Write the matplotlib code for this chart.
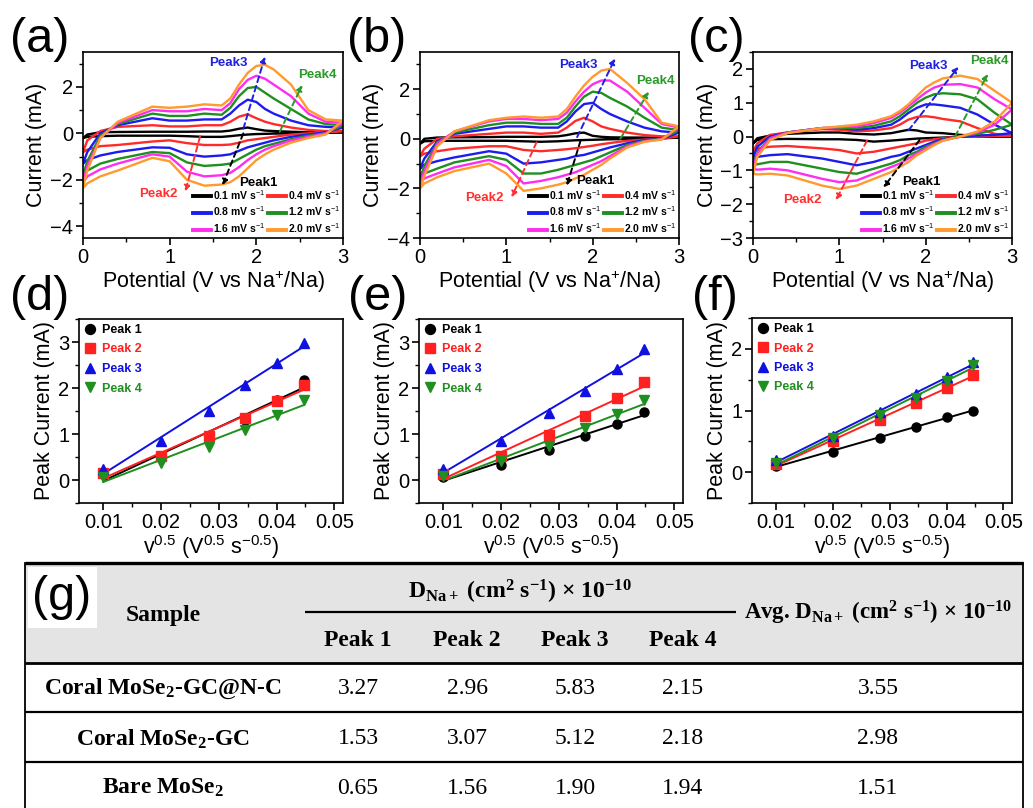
import numpy as np
import matplotlib
matplotlib.use('Agg')
import matplotlib.pyplot as plt
from matplotlib.ticker import MultipleLocator
from matplotlib.patches import Rectangle

plt.rcParams['font.family'] = ['Liberation Sans', 'DejaVu Sans']
plt.rcParams['mathtext.fontset'] = 'custom'
plt.rcParams['mathtext.rm'] = 'Liberation Sans'
plt.rcParams['mathtext.it'] = 'Liberation Sans:italic'
plt.rcParams['mathtext.bf'] = 'Liberation Serif:bold'
plt.rcParams['axes.linewidth'] = 1.2

# ---------------- data ----------------
potential = [0, 0.05, 0.2, 0.4, 0.8, 1.0, 1.2, 1.4, 1.6, 1.7, 1.8, 1.9, 2.0, 2.1, 2.2, 2.4, 2.6, 2.8, 3.0]
scan_rates = ['0.1', '0.4', '0.8', '1.2', '1.6', '2.0']
rate_colors = ['#000000', '#ff2a2a', '#1c1cf0', '#1f8f1f', '#ff2df0', '#ff9a2e']

a_anodic = [
    [-0.2, -0.05, 0.05, 0.06, 0.07, 0.07, 0.07, 0.08, 0.08, 0.12, 0.2, 0.25, 0.18, 0.12, 0.1, 0.07, 0.05, 0.05, 0.05],
    [-0.8, -0.3, 0.1, 0.28, 0.35, 0.3, 0.3, 0.35, 0.35, 0.5, 0.72, 0.82, 0.65, 0.5, 0.4, 0.25, 0.15, 0.1, 0.1],
    [-1.3, -0.8, 0.0, 0.35, 0.65, 0.55, 0.55, 0.6, 0.6, 0.85, 1.2, 1.45, 1.35, 1.05, 0.85, 0.55, 0.35, 0.28, 0.25],
    [-1.8, -1.2, -0.1, 0.4, 0.85, 0.75, 0.75, 0.85, 0.8, 1.1, 1.6, 1.95, 2.0, 1.75, 1.5, 1.05, 0.6, 0.4, 0.35],
    [-2.1, -1.4, -0.2, 0.45, 1.0, 0.95, 0.95, 1.05, 1.0, 1.3, 1.9, 2.3, 2.48, 2.35, 2.1, 1.6, 0.85, 0.5, 0.45],
    [-2.35, -1.6, -0.2, 0.5, 1.15, 1.1, 1.15, 1.25, 1.2, 1.5, 2.1, 2.6, 2.9, 2.95, 2.75, 2.1, 1.0, 0.6, 0.55],
]
a_cathodic = [
    [-0.2, -0.15, -0.12, -0.1, -0.1, -0.1, -0.12, -0.15, -0.15, -0.12, -0.08, -0.05, -0.03, -0.02, -0.01, 0.0, 0.0, 0.02, 0.05],
    [-0.8, -0.7, -0.55, -0.5, -0.35, -0.3, -0.42, -0.5, -0.5, -0.48, -0.4, -0.3, -0.25, -0.2, -0.15, -0.05, 0.0, 0.05, 0.1],
    [-1.3, -1.15, -0.95, -0.8, -0.6, -0.62, -0.9, -1.0, -0.95, -0.9, -0.75, -0.6, -0.5, -0.4, -0.3, -0.15, -0.05, 0.05, 0.25],
    [-1.8, -1.6, -1.3, -1.1, -0.8, -0.85, -1.25, -1.4, -1.35, -1.3, -1.1, -0.9, -0.7, -0.55, -0.45, -0.25, -0.1, 0.0, 0.35],
    [-2.1, -1.85, -1.55, -1.3, -0.9, -1.0, -1.65, -1.85, -1.8, -1.7, -1.45, -1.15, -0.9, -0.7, -0.55, -0.3, -0.15, 0.0, 0.45],
    [-2.35, -2.15, -1.85, -1.6, -1.05, -1.2, -2.0, -2.25, -2.2, -2.1, -1.85, -1.5, -1.15, -0.9, -0.7, -0.4, -0.2, -0.05, 0.55],
]
b_anodic = [
    [-0.2, 0.0, 0.05, 0.06, 0.07, 0.08, 0.08, 0.08, 0.1, 0.15, 0.22, 0.25, 0.12, 0.08, 0.06, 0.05, 0.05, 0.05, 0.05],
    [-0.7, -0.4, 0.0, 0.1, 0.2, 0.25, 0.25, 0.2, 0.25, 0.45, 0.72, 0.85, 0.7, 0.5, 0.4, 0.25, 0.15, 0.1, 0.1],
    [-1.2, -0.8, -0.1, 0.2, 0.4, 0.5, 0.5, 0.45, 0.45, 0.7, 1.1, 1.4, 1.45, 1.2, 1.0, 0.7, 0.45, 0.3, 0.25],
    [-1.6, -1.1, -0.15, 0.25, 0.55, 0.65, 0.65, 0.6, 0.6, 0.85, 1.3, 1.7, 1.9, 1.85, 1.65, 1.3, 0.85, 0.45, 0.35],
    [-1.8, -1.3, -0.2, 0.3, 0.7, 0.8, 0.8, 0.75, 0.8, 1.05, 1.5, 1.9, 2.2, 2.35, 2.35, 1.9, 1.25, 0.6, 0.45],
    [-2.0, -1.5, -0.3, 0.3, 0.75, 0.85, 0.9, 0.85, 0.9, 1.2, 1.7, 2.15, 2.5, 2.75, 2.82, 2.25, 1.6, 0.65, 0.5],
]
b_cathodic = [
    [-0.2, -0.1, -0.08, -0.08, -0.08, -0.08, -0.1, -0.12, -0.1, -0.08, -0.06, -0.05, -0.04, -0.03, -0.02, -0.01, 0.0, 0.02, 0.05],
    [-0.7, -0.6, -0.5, -0.4, -0.3, -0.3, -0.45, -0.5, -0.45, -0.42, -0.38, -0.33, -0.28, -0.22, -0.17, -0.08, -0.03, 0.0, 0.1],
    [-1.2, -1.05, -0.9, -0.75, -0.5, -0.6, -1.0, -0.95, -0.85, -0.8, -0.7, -0.65, -0.55, -0.45, -0.35, -0.18, -0.05, 0.0, 0.25],
    [-1.6, -1.4, -1.2, -0.95, -0.7, -0.85, -1.4, -1.4, -1.25, -1.15, -1.05, -0.95, -0.85, -0.7, -0.55, -0.25, -0.08, 0.0, 0.35],
    [-1.8, -1.6, -1.4, -1.15, -0.85, -1.1, -1.8, -1.7, -1.55, -1.45, -1.35, -1.2, -1.05, -0.9, -0.7, -0.3, -0.1, -0.02, 0.45],
    [-2.0, -1.8, -1.55, -1.3, -1.0, -1.4, -2.1, -2.0, -1.85, -1.75, -1.6, -1.45, -1.25, -1.05, -0.8, -0.35, -0.12, -0.03, 0.5],
]
c_anodic = [
    [-0.2, -0.05, 0.03, 0.08, 0.12, 0.12, 0.08, 0.06, 0.1, 0.15, 0.2, 0.18, 0.12, 0.11, 0.1, 0.05, 0.02, 0.01, 0.0],
    [-0.45, -0.2, 0.05, 0.12, 0.22, 0.2, 0.15, 0.18, 0.25, 0.35, 0.5, 0.58, 0.6, 0.57, 0.52, 0.45, 0.25, 0.08, 0.02],
    [-0.65, -0.3, 0.0, 0.12, 0.25, 0.25, 0.2, 0.25, 0.35, 0.5, 0.7, 0.85, 0.95, 0.95, 0.92, 0.85, 0.65, 0.35, 0.1],
    [-0.85, -0.45, -0.05, 0.12, 0.25, 0.25, 0.25, 0.32, 0.45, 0.6, 0.8, 1.0, 1.15, 1.25, 1.28, 1.25, 1.1, 0.7, 0.35],
    [-0.95, -0.5, -0.05, 0.12, 0.25, 0.28, 0.3, 0.4, 0.55, 0.7, 0.9, 1.1, 1.3, 1.45, 1.53, 1.55, 1.45, 1.1, 0.8],
    [-1.1, -0.6, -0.1, 0.1, 0.25, 0.3, 0.35, 0.45, 0.6, 0.75, 0.95, 1.2, 1.45, 1.6, 1.72, 1.8, 1.7, 1.35, 1.0],
]
c_cathodic = [
    [-0.2, -0.1, -0.08, -0.07, -0.08, -0.08, -0.1, -0.15, -0.12, -0.1, -0.08, -0.06, -0.05, -0.04, -0.03, -0.01, 0.0, 0.0, 0.0],
    [-0.45, -0.35, -0.3, -0.28, -0.35, -0.4, -0.5, -0.45, -0.35, -0.3, -0.25, -0.2, -0.12, -0.08, -0.05, 0.0, 0.0, 0.01, 0.02],
    [-0.65, -0.6, -0.55, -0.52, -0.65, -0.75, -0.85, -0.75, -0.6, -0.55, -0.45, -0.35, -0.25, -0.15, -0.08, 0.0, 0.03, 0.05, 0.1],
    [-0.85, -0.82, -0.75, -0.75, -0.95, -1.05, -1.1, -0.95, -0.8, -0.7, -0.55, -0.45, -0.3, -0.2, -0.1, 0.0, 0.08, 0.2, 0.35],
    [-0.95, -0.98, -0.95, -1.0, -1.25, -1.35, -1.3, -1.1, -0.9, -0.8, -0.65, -0.5, -0.35, -0.22, -0.12, 0.0, 0.12, 0.35, 0.8],
    [-1.1, -1.12, -1.1, -1.15, -1.45, -1.55, -1.45, -1.25, -1.05, -0.9, -0.75, -0.55, -0.4, -0.25, -0.12, 0.0, 0.15, 0.45, 1.0],
]

# peak current vs square root of scan rate
sqrt_rate = [0.01, 0.02, 0.0283, 0.0346, 0.04, 0.0447]
peak_names = ['Peak 1', 'Peak 2', 'Peak 3', 'Peak 4']
peak_colors = ['#000000', '#ff2020', '#1010e0', '#1f8f1f']
peak_markers = ['o', 's', '^', 'v']
d_peaks = [
    [0.13, 0.49, 0.92, 1.30, 1.75, 2.17],
    [0.15, 0.52, 0.95, 1.35, 1.72, 2.06],
    [0.24, 0.85, 1.50, 2.07, 2.54, 2.98],
    [0.07, 0.38, 0.72, 1.09, 1.41, 1.74],
]
e_peaks = [
    [0.07, 0.33, 0.66, 0.96, 1.22, 1.48],
    [0.14, 0.52, 0.98, 1.40, 1.78, 2.12],
    [0.25, 0.84, 1.46, 1.94, 2.41, 2.84],
    [0.09, 0.41, 0.74, 1.13, 1.44, 1.74],
]
f_peaks = [
    [0.10, 0.33, 0.56, 0.74, 0.89, 1.00],
    [0.13, 0.50, 0.85, 1.12, 1.37, 1.58],
    [0.20, 0.59, 0.97, 1.26, 1.54, 1.79],
    [0.15, 0.55, 0.93, 1.20, 1.48, 1.74],
]

# table (g)
table_samples = ['Coral MoSe$\\mathbf{_{2}}$-GC@N-C', 'Coral MoSe$\\mathbf{_{2}}$-GC', 'Bare MoSe$\\mathbf{_{2}}$']
table_peaks = ['Peak 1', 'Peak 2', 'Peak 3', 'Peak 4']
row_gc_nc = [3.27, 2.96, 5.83, 2.15]
row_gc = [1.53, 3.07, 5.12, 2.18]
row_bare = [0.65, 1.56, 1.90, 1.94]
avg_values = [3.55, 2.98, 1.51]

# ---------------- figure ----------------
W, H = 1033, 808
fig = plt.figure(figsize=(W / 100, H / 100), dpi=100)


def px_axes(l, t, r, b):
    return fig.add_axes([l / W, 1 - b / H, (r - l) / W, (b - t) / H])


TICK_FS = 14.5
LAB_FS = 15.5


def style_ticks(ax):
    ax.tick_params(which='major', direction='out', length=5, width=1.2, labelsize=TICK_FS,
                   top=False, right=False, pad=2)
    ax.tick_params(which='minor', direction='out', length=3, width=1.0, top=False, right=False)


def cv_panel(ax, anodic, cathodic, ylim, ymajor, yminor, arrows, labels):
    lines = []
    for i in range(len(scan_rates)):
        e = list(potential) + list(potential[::-1])
        cur = list(anodic[i]) + list(cathodic[i][::-1])
        ln, = ax.plot(e, cur, color=rate_colors[i], lw=1.7, solid_joinstyle='round',
                      label=scan_rates[i] + ' mV s$^{-1}$')
        lines.append(ln)
    ax.set_xlim(0, 3)
    ax.set_ylim(*ylim)
    ax.xaxis.set_major_locator(MultipleLocator(1))
    ax.xaxis.set_minor_locator(MultipleLocator(0.5))
    ax.yaxis.set_major_locator(MultipleLocator(ymajor))
    ax.yaxis.set_minor_locator(MultipleLocator(yminor))
    style_ticks(ax)
    ax.set_xlabel('Potential (V vs Na$^{+}$/Na)', fontsize=LAB_FS, labelpad=1)
    ax.set_ylabel('Current (mA)', fontsize=LAB_FS, labelpad=2)
    pcols = ['#000000', '#ff3030', '#2020e0', '#2a9a2a']
    for k, (start, end) in enumerate(arrows):
        ax.annotate('', xy=end, xytext=start,
                    arrowprops=dict(arrowstyle='-|>', color=pcols[k], lw=1.4,
                                    linestyle=(0, (3, 2)), mutation_scale=8,
                                    shrinkA=0, shrinkB=0))
    for k, (txt, pos) in enumerate(zip(['Peak1', 'Peak2', 'Peak3', 'Peak4'], labels)):
        ax.text(pos[0], pos[1], txt, color=pcols[k], fontsize=9.5, fontweight='bold',
                ha='center', va='center')
    order = [0, 2, 4, 1, 3, 5]
    leg = ax.legend([lines[i] for i in order], [lines[i].get_label() for i in order],
                    ncol=2, loc='lower right', bbox_to_anchor=(1.0, 0.0), frameon=False,
                    prop={'weight': 'bold', 'size': 7.5}, handlelength=1.7,
                    handletextpad=0.2, columnspacing=0.3, labelspacing=0.3,
                    borderaxespad=0.15, borderpad=0.1)
    for ln in leg.get_lines():
        ln.set_linewidth(2.8)


ax_a = px_axes(83, 52, 343, 238)
cv_panel(ax_a, a_anodic, a_cathodic, (-4.5, 3.5), 2, 1,
         [((1.85, 0.0), (1.61, -2.23)), ((1.35, -0.14), (1.18, -2.5)),
          ((1.85, 0.2), (2.1, 3.3)), ((2.27, 0.07), (2.53, 2.08))],
         [(2.02, -2.15), (0.87, -2.62), (1.68, 3.02), (2.7, 2.52)])

ax_b = px_axes(420, 52, 679, 238)
cv_panel(ax_b, b_anodic, b_cathodic, (-4, 3.5), 2, 1,
         [((1.86, -0.07), (1.70, -1.89)), ((1.35, -0.14), (1.06, -2.36)),
          ((1.82, 0.07), (2.26, 3.24)), ((2.32, 0.0), (2.65, 1.9))],
         [(2.03, -1.72), (0.75, -2.38), (1.84, 2.99), (2.73, 2.34)])

ax_c = px_axes(753, 52, 1012, 238)
cv_panel(ax_c, c_anodic, c_cathodic, (-3, 2.5), 1, 0.5,
         [((1.93, -0.1), (1.51, -1.51)), ((1.32, -0.12), (0.96, -1.88)),
          ((1.80, 0.18), (2.38, 2.06)), ((2.34, 0.0), (2.72, 1.85))],
         [(1.95, -1.34), (0.57, -1.88), (2.03, 2.1), (2.74, 2.23)])


def peak_panel(ax, peaks, ylim, ymajor, yminor):
    x = np.array(sqrt_rate)
    for k in range(4):
        y = np.array(peaks[k])
        ax.plot(x, y, linestyle='none', marker=peak_markers[k], color=peak_colors[k],
                markersize=6.5, label=peak_names[k], zorder=3)
        slope, icpt = np.polyfit(x, y, 1)
        ax.plot([x.min(), x.max()], [slope * x.min() + icpt, slope * x.max() + icpt],
                color=peak_colors[k], lw=1.4, zorder=2)
    ax.set_xlim(0.0058, 0.0515)
    ax.set_ylim(*ylim)
    ax.xaxis.set_major_locator(MultipleLocator(0.01))
    ax.xaxis.set_minor_locator(MultipleLocator(0.005))
    ax.yaxis.set_major_locator(MultipleLocator(ymajor))
    ax.yaxis.set_minor_locator(MultipleLocator(yminor))
    ax.xaxis.set_major_formatter(matplotlib.ticker.FormatStrFormatter('%.2f'))
    style_ticks(ax)
    ax.set_xlabel('v$^{0.5}$ (V$^{0.5}$ s$^{-0.5}$)', fontsize=LAB_FS, labelpad=1)
    ax.set_ylabel('Peak Current (mA)', fontsize=LAB_FS, labelpad=2)
    leg = ax.legend(loc='upper left', frameon=False, prop={'weight': 'bold', 'size': 9},
                    handletextpad=0.4, labelspacing=0.6, borderaxespad=0.2, borderpad=0.2,
                    handlelength=1.0, markerscale=1.1)
    for t, c in zip(leg.get_texts(), peak_colors):
        t.set_color(c)


ax_d = px_axes(79, 319, 343, 503)
peak_panel(ax_d, d_peaks, (-0.5, 3.5), 1, 0.5)
ax_e = px_axes(419, 319, 683, 503)
peak_panel(ax_e, e_peaks, (-0.5, 3.5), 1, 0.5)
ax_f = px_axes(752, 318, 1012, 503)
peak_panel(ax_f, f_peaks, (-0.5, 2.5), 1, 0.5)

# panel letters
for txt, (x, y) in zip(['(a)', '(b)', '(c)', '(d)', '(e)', '(f)'],
                       [(40, 40), (377, 40), (716, 40), (40, 297), (378, 297), (715, 297)]):
    fig.text(x / W, 1 - y / H, txt, fontsize=35, ha='center', va='center')

# ---------------- table (g) ----------------
tab = fig.add_axes([0, 0, 1, 1], zorder=-1)
tab.set_xlim(0, W)
tab.set_ylim(H, 0)
tab.axis('off')
L, R = 25, 1023
tab.add_patch(Rectangle((L, 563), R - L, 100, facecolor='#e4e4e4', edgecolor='none'))
tab.add_patch(Rectangle((28, 567), 69, 61, facecolor='white', edgecolor='none'))
tab.text(62, 597, '(g)', fontsize=35, ha='center', va='center', family='Liberation Sans')
tab.plot([L, R], [563, 563], color='black', lw=2.4, solid_capstyle='butt')
tab.plot([L, R], [663, 663], color='black', lw=2.0, solid_capstyle='butt')
tab.plot([L, R], [712, 712], color='black', lw=1.6, solid_capstyle='butt')
tab.plot([L, R], [762, 762], color='black', lw=1.6, solid_capstyle='butt')
tab.plot([L, L], [563, H], color='black', lw=1.3)
tab.plot([R, R], [563, H], color='black', lw=1.3)
tab.plot([305, 736], [612, 612], color='black', lw=1.6, solid_capstyle='butt')

serif_b = dict(family='Liberation Serif', fontweight='bold', fontsize=17, ha='center', va='center')
serif_r = dict(family='Liberation Serif', fontsize=17, ha='center', va='center')
tab.text(163, 615, 'Sample', **serif_b)
tab.text(520, 592, 'D$\\mathbf{_{Na+}}$ (cm$\\mathbf{^{2}}$ s$\\mathbf{^{-1}}$) \u00d7 10$\\mathbf{^{-10}}$', **serif_b)
tab.text(878, 613, 'Avg. D$\\mathbf{_{Na+}}$ (cm$\\mathbf{^{2}}$ s$\\mathbf{^{-1}}$) \u00d7 10$\\mathbf{^{-10}}$',
         family='Liberation Serif', fontweight='bold', fontsize=16.5, ha='center', va='center')
col_x = [358, 467, 575, 683]
for cx, name in zip(col_x, table_peaks):
    tab.text(cx, 640, name, **serif_b)
row_y = [689, 739, 788]
for ry, name, vals, avg in zip(row_y, table_samples, [row_gc_nc, row_gc, row_bare], avg_values):
    tab.text(163, ry, name, **serif_b)
    for cx, v in zip(col_x, vals):
        tab.text(cx, ry, '%.2f' % v, **serif_r)
    tab.text(878, ry, '%.2f' % avg, **serif_r)

fig.savefig('out.png', dpi=100)
